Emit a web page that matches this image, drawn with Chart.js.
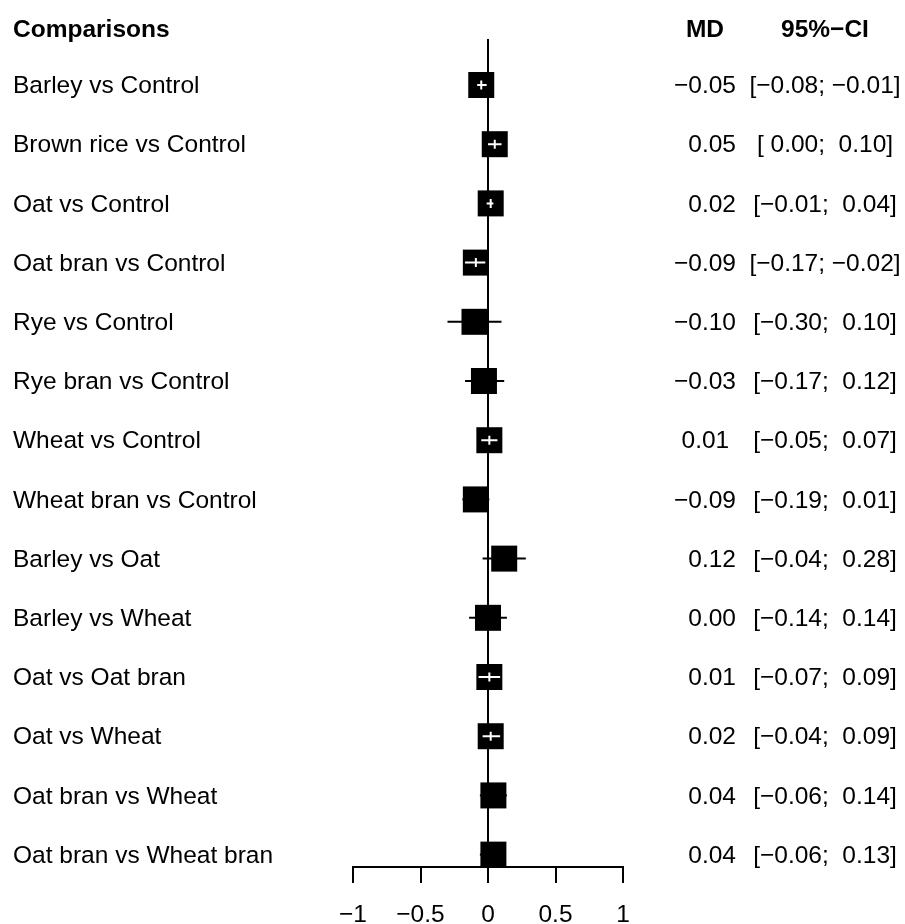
<!DOCTYPE html>
<html>
<head>
<meta charset="utf-8">
<script src="https://cdn.jsdelivr.net/npm/chart.js@4.4.0/dist/chart.umd.min.js"></script>
<style>
  html, body { margin: 0; padding: 0; background: #fff; }
  #wrap { width: 905px; height: 924px; }
</style>
</head>
<body>
<div id="wrap"><canvas id="forest" width="905" height="924"></canvas></div>
<script>
// comparisons, top to bottom
const comparisons = ['Barley vs Control', 'Brown rice vs Control', 'Oat vs Control', 'Oat bran vs Control',
  'Rye vs Control', 'Rye bran vs Control', 'Wheat vs Control', 'Wheat bran vs Control',
  'Barley vs Oat', 'Barley vs Wheat', 'Oat vs Oat bran', 'Oat vs Wheat', 'Oat bran vs Wheat',
  'Oat bran vs Wheat bran'];
const md    = [-0.05, 0.05, 0.02, -0.09, -0.10, -0.03, 0.01, -0.09, 0.12, 0.00, 0.01, 0.02, 0.04, 0.04];
const lower = [-0.08, 0.00, -0.01, -0.17, -0.30, -0.17, -0.05, -0.19, -0.04, -0.14, -0.07, -0.04, -0.06, -0.06];
const upper = [-0.01, 0.10, 0.04, -0.02, 0.10, 0.12, 0.07, 0.01, 0.28, 0.14, 0.09, 0.09, 0.14, 0.13];
const mdLabels = ['\u22120.05', '0.05', '0.02', '\u22120.09', '\u22120.10', '\u22120.03', '0.01\u00a0',
  '\u22120.09', '0.12', '0.00', '0.01', '0.02', '0.04', '0.04'];
const ciLabels = ['[\u22120.08; \u22120.01]', '[ 0.00;  0.10]', '[\u22120.01;  0.04]', '[\u22120.17; \u22120.02]',
  '[\u22120.30;  0.10]', '[\u22120.17;  0.12]', '[\u22120.05;  0.07]', '[\u22120.19;  0.01]',
  '[\u22120.04;  0.28]', '[\u22120.14;  0.14]', '[\u22120.07;  0.09]', '[\u22120.04;  0.09]',
  '[\u22120.06;  0.14]', '[\u22120.06;  0.13]'];
const xTicks = [-1, -0.5, 0, 0.5, 1];

const FONT = '"Liberation Sans", Arial, sans-serif';
const SQ = 26; // square side, px

const points = md.map((v, i) => ({ x: v, y: i + 1 }));

// zero line + black CI whiskers, drawn behind the squares
const whiskers = {
  id: 'whiskers',
  beforeDatasetsDraw(chart) {
    const { ctx, chartArea, scales: { x, y } } = chart;
    ctx.save();
    ctx.strokeStyle = '#000';
    ctx.lineWidth = 2;
    ctx.beginPath();
    ctx.moveTo(x.getPixelForValue(0), chartArea.top);
    ctx.lineTo(x.getPixelForValue(0), chartArea.bottom);
    ctx.stroke();
    md.forEach((v, i) => {
      const cx = x.getPixelForValue(v), cy = y.getPixelForValue(i + 1);
      const lo = x.getPixelForValue(lower[i]), hi = x.getPixelForValue(upper[i]);
      if (lo >= cx - SQ / 2 && hi <= cx + SQ / 2) return;
      ctx.beginPath();
      ctx.moveTo(lo, cy);
      ctx.lineTo(hi, cy);
      ctx.stroke();
    });
    ctx.restore();
  },
  // white CI inside the square when it fits
  afterDatasetsDraw(chart) {
    const { ctx, scales: { x, y } } = chart;
    ctx.save();
    ctx.strokeStyle = '#fff';
    ctx.lineWidth = 2;
    md.forEach((v, i) => {
      const cx = x.getPixelForValue(v), cy = y.getPixelForValue(i + 1);
      const lo = x.getPixelForValue(lower[i]), hi = x.getPixelForValue(upper[i]);
      if (!(lo >= cx - SQ / 2 && hi <= cx + SQ / 2)) return;
      ctx.beginPath();
      ctx.moveTo(lo, cy);
      ctx.lineTo(hi, cy);
      ctx.moveTo(cx, cy - 4.5);
      ctx.lineTo(cx, cy + 4.5);
      ctx.stroke();
    });
    ctx.restore();
  }
};

// text columns
const columns = {
  id: 'columns',
  afterDraw(chart) {
    const { ctx, scales: { y } } = chart;
    ctx.save();
    ctx.fillStyle = '#000';
    ctx.textBaseline = 'middle';
    const hy = y.getPixelForValue(0) + 4;
    ctx.font = 'bold 24.5px ' + FONT;
    ctx.textAlign = 'left';
    ctx.fillText('Comparisons', 13, hy);
    ctx.textAlign = 'center';
    ctx.fillText('MD', 705, hy);
    ctx.fillText('95%\u2212CI', 825, hy);
    ctx.font = '24.5px ' + FONT;
    comparisons.forEach((c, i) => {
      const py = y.getPixelForValue(i + 1) + 1.5;
      ctx.textAlign = 'left';
      ctx.fillText(c, 13, py);
      ctx.textAlign = 'right';
      ctx.fillText(mdLabels[i], 736, py);
      ctx.textAlign = 'center';
      ctx.fillText(ciLabels[i], 825, py);
    });
    ctx.restore();
  }
};

new Chart(document.getElementById('forest'), {
  type: 'scatter',
  data: {
    datasets: [{
      data: points,
      pointStyle: 'rect',
      pointRadius: SQ / Math.SQRT2,
      pointHoverRadius: SQ / Math.SQRT2,
      backgroundColor: '#000',
      borderColor: '#000',
      borderWidth: 0
    }]
  },
  options: {
    responsive: false,
    animation: false,
    events: [],
    layout: { padding: { left: 353, right: 282, top: 39, bottom: 0 } },
    plugins: { legend: { display: false }, tooltip: { enabled: false } },
    scales: {
      x: {
        type: 'linear',
        min: -1,
        max: 1,
        afterBuildTicks(scale) { scale.ticks = xTicks.map(v => ({ value: v })); },
        afterFit(scale) { scale.height = 57; },
        border: { display: true, color: '#000', width: 2 },
        grid: { display: true, drawOnChartArea: false, drawTicks: true, tickLength: 16, color: '#000', lineWidth: 2 },
        ticks: {
          color: '#000',
          padding: 18,
          font: { family: FONT, size: 24.5 },
          callback: v => String(v).replace('-', '\u2212')
        }
      },
      y: {
        type: 'linear',
        display: false,
        reverse: true,
        min: 0.223,
        max: 14.209
      }
    }
  },
  plugins: [whiskers, columns]
});
</script>
</body>
</html>
